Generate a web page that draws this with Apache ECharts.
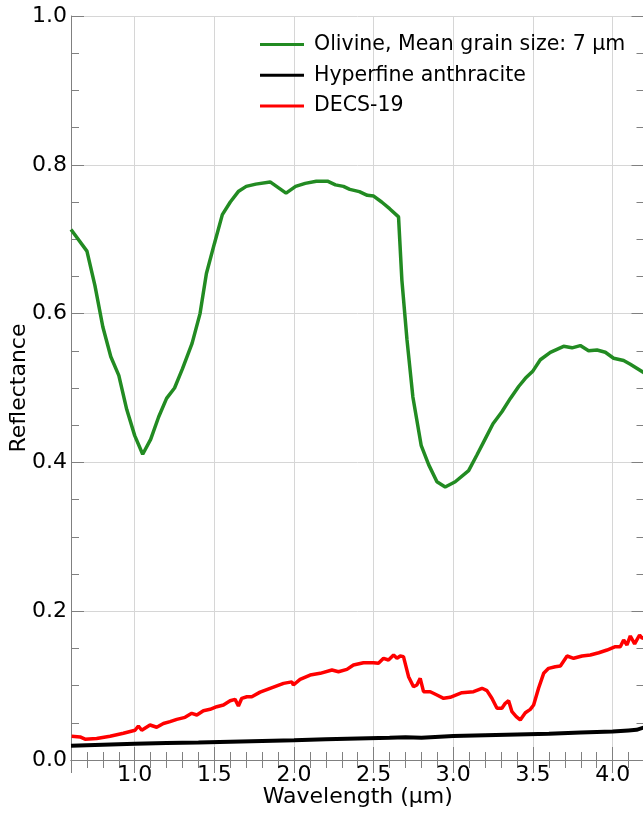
<!DOCTYPE html>
<html>
<head>
<meta charset="utf-8">
<script src="https://cdn.jsdelivr.net/npm/echarts@6/dist/echarts.min.js"></script>
<style>
html,body{margin:0;padding:0;background:#fff;}
#chart{width:643px;height:813px;}
</style>
</head>
<body>
<div id="chart"></div>
<script>
// ---- data ----
const seriesNames = ['Olivine, Mean grain size: 7 μm', 'Hyperfine anthracite', 'DECS-19'];

const olivineX = [0.60,0.70,0.75,0.80,0.85,0.90,0.95,1.00,1.05,1.10,1.15,1.20,1.25,1.30,1.36,1.41,1.45,1.50,1.55,1.60,1.65,1.70,1.76,1.85,1.95,2.01,2.07,2.14,2.21,2.26,2.31,2.35,2.41,2.46,2.50,2.55,2.60,2.656,2.677,2.709,2.746,2.798,2.845,2.897,2.949,3.012,3.096,3.148,3.201,3.249,3.305,3.358,3.41,3.452,3.50,3.546,3.609,3.692,3.745,3.797,3.849,3.902,3.954,4.006,4.069,4.111,4.20];
const olivineY = [0.713,0.684,0.638,0.582,0.542,0.517,0.471,0.436,0.411,0.431,0.461,0.486,0.500,0.526,0.560,0.600,0.654,0.694,0.733,0.750,0.764,0.771,0.774,0.777,0.762,0.771,0.775,0.778,0.778,0.773,0.771,0.767,0.764,0.759,0.758,0.750,0.741,0.730,0.645,0.565,0.488,0.423,0.397,0.374,0.367,0.374,0.389,0.410,0.432,0.452,0.468,0.486,0.502,0.513,0.523,0.538,0.548,0.556,0.554,0.557,0.550,0.551,0.548,0.540,0.537,0.532,0.520];

const anthraciteX = [0.60,0.80,1.00,1.20,1.40,1.60,1.80,2.00,2.20,2.40,2.60,2.70,2.80,3.00,3.20,3.40,3.60,3.80,4.00,4.10,4.15,4.20];
const anthraciteY = [0.019,0.0205,0.022,0.0228,0.0236,0.0246,0.0256,0.0266,0.0278,0.0288,0.0298,0.0305,0.0298,0.0322,0.0332,0.0342,0.0352,0.0370,0.0382,0.0398,0.0405,0.0440];

const decsX = [0.604,0.657,0.688,0.761,0.845,0.929,1.002,1.023,1.044,1.096,1.138,1.18,1.222,1.264,1.316,1.358,1.39,1.431,1.473,1.515,1.557,1.599,1.63,1.651,1.672,1.704,1.735,1.787,1.85,1.934,1.986,1.996,2.038,2.101,2.164,2.238,2.279,2.332,2.373,2.436,2.499,2.53,2.562,2.593,2.625,2.646,2.667,2.687,2.719,2.75,2.771,2.792,2.813,2.855,2.897,2.939,2.98,3.054,3.127,3.18,3.211,3.242,3.274,3.305,3.326,3.347,3.368,3.395,3.42,3.452,3.483,3.504,3.535,3.567,3.598,3.64,3.672,3.714,3.755,3.808,3.86,3.913,3.965,4.017,4.048,4.069,4.09,4.111,4.138,4.169,4.185,4.20];
const decsY = [0.032,0.031,0.028,0.029,0.032,0.036,0.040,0.0457,0.040,0.047,0.044,0.049,0.0515,0.0546,0.0573,0.0627,0.0605,0.0663,0.0681,0.0716,0.0739,0.0797,0.0815,0.0726,0.0829,0.085,0.085,0.0912,0.0964,0.103,0.105,0.1008,0.1084,0.1142,0.1165,0.121,0.1187,0.1218,0.1277,0.1308,0.1308,0.130,0.1367,0.1344,0.1411,0.1367,0.1398,0.1389,0.112,0.0985,0.1008,0.1098,0.0918,0.0918,0.0874,0.0829,0.0842,0.0905,0.0918,0.0964,0.0932,0.0829,0.0695,0.0695,0.0762,0.0797,0.0649,0.0582,0.0538,0.0636,0.0681,0.0739,0.0964,0.1165,0.1232,0.1254,0.1263,0.1398,0.1367,0.1398,0.1411,0.1442,0.1478,0.1523,0.1523,0.1613,0.1546,0.1667,0.156,0.168,0.1636,0.165];

const xMin = 0.6, xMax = 4.2;
const yMin = 0, yMax = 1.0, yStep = 0.2;
const xAxisName = 'Wavelength (μm)';
const yAxisName = 'Reflectance';

// ---- chart ----
const zip = (xs, ys) => xs.map((x, i) => [x, ys[i]]);
const FONT = 'DejaVu Sans';
const spineColor = '#808080';
const gridColor = '#d6d6d6';

function xAxisDef(pos, main) {
  return {
    type: 'value', position: pos, min: xMin, max: xMax, splitNumber: 7,
    axisLine: { show: true, lineStyle: { color: spineColor, width: 1 } },
    axisTick: { show: true, inside: true, length: 13, lineStyle: { color: spineColor, width: 1 } },
    minorTick: { show: true, splitNumber: 5, length: 8, lineStyle: { color: spineColor, width: 1 } },
    axisLabel: { show: main, showMinLabel: false, showMaxLabel: false, color: '#000', fontFamily: FONT, fontSize: 22, margin: 4,
      formatter: v => v.toFixed(1) },
    splitLine: { show: main, lineStyle: { color: gridColor, width: 1 } },
    name: main ? xAxisName : '', nameLocation: 'middle', nameGap: 26, nameMoveOverlap: false,
    nameTextStyle: { color: '#000', fontFamily: FONT, fontSize: 22 }
  };
}
function yAxisDef(pos, main) {
  return {
    type: 'value', position: pos, min: yMin, max: yMax, interval: yStep,
    axisLine: { show: true, lineStyle: { color: spineColor, width: 1 } },
    axisTick: { show: true, inside: true, length: 13, lineStyle: { color: spineColor, width: 1 } },
    minorTick: { show: true, splitNumber: 4, length: 8, lineStyle: { color: spineColor, width: 1 } },
    axisLabel: { show: main, color: '#000', fontFamily: FONT, fontSize: 22, margin: 4,
      formatter: v => v.toFixed(1) },
    splitLine: { show: main, lineStyle: { color: gridColor, width: 1 } },
    name: main ? yAxisName : '', nameLocation: 'middle', nameGap: 41, nameMoveOverlap: false,
    nameTextStyle: { color: '#000', fontFamily: FONT, fontSize: 22 }
  };
}

const chart = echarts.init(document.getElementById('chart'), null, { renderer: 'canvas' });
chart.setOption({
  animation: false,
  backgroundColor: '#fff',
  grid: { left: 71, right: -1.5, top: 16, bottom: 53, containLabel: false, outerBoundsMode: 'none' },
  xAxis: [xAxisDef('bottom', true), xAxisDef('top', false)],
  yAxis: [yAxisDef('left', true), yAxisDef('right', false)],
  legend: {
    orient: 'vertical', left: 255, top: 29, itemWidth: 44, itemHeight: 3, itemGap: 9.7,
    icon: 'rect',
    textStyle: { fontFamily: FONT, fontSize: 20.5, color: '#000', lineHeight: 20, padding: [0, 0, 0, 5] },
    data: seriesNames
  },
  series: [
    { name: seriesNames[0], type: 'line', data: zip(olivineX, olivineY), showSymbol: false, symbol: 'none',
      lineStyle: { color: '#228B22', width: 3.5 }, itemStyle: { color: '#228B22' } },
    { name: seriesNames[1], type: 'line', data: zip(anthraciteX, anthraciteY), showSymbol: false, symbol: 'none',
      lineStyle: { color: '#000000', width: 4 }, itemStyle: { color: '#000000' } },
    { name: seriesNames[2], type: 'line', data: zip(decsX, decsY), showSymbol: false, symbol: 'none',
      lineStyle: { color: '#ff0000', width: 3.5 }, itemStyle: { color: '#ff0000' } }
  ]
});
</script>
</body>
</html>
